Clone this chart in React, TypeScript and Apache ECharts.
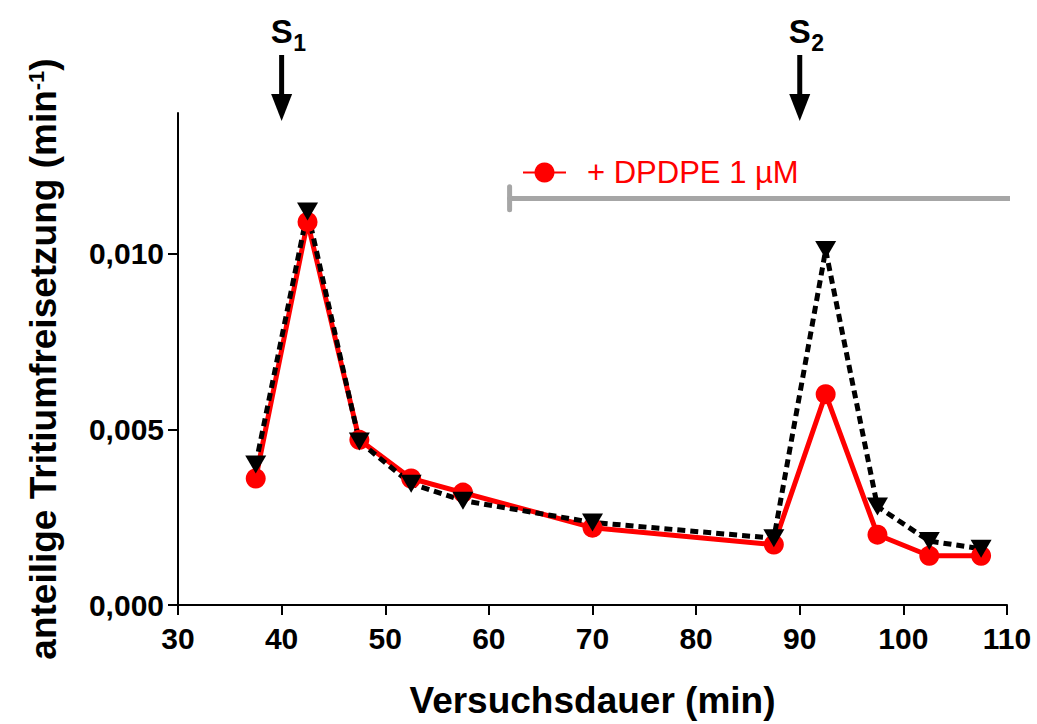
import React, { useEffect, useRef } from "react";
import * as echarts from "echarts";

const timePoints = [37.5, 42.5, 47.5, 52.5, 57.5, 70, 87.5, 92.5, 97.5, 102.5, 107.5];
const dpdpeValues = [0.0036, 0.0109, 0.0047, 0.0036, 0.0032, 0.0022, 0.00172, 0.006, 0.002, 0.0014, 0.0014];
const controlValues = [0.004, 0.0112, 0.00465, 0.00345, 0.00297, 0.00235, 0.0019, 0.0101, 0.0028, 0.00182, 0.0016];
const yTicks = [0, 0.005, 0.01];
const drugBar = [[62, 0.01157], [110.5, 0.01157]];
const drugBarCap = [[62, 0.0119], [62, 0.01125]];
const stimuli = [
  { label: "S", sub: "1", x: 40 },
  { label: "S", sub: "2", x: 90 },
];
const dpdpeName = "+ DPDPE 1 µM";

const FONT = "'Liberation Sans', Arial, sans-serif";

export default function App() {
  const ref = useRef<HTMLDivElement>(null);
  useEffect(() => {
    document.body.style.margin = "0";
    document.body.style.overflow = "hidden";
    if (!ref.current) return;
    const chart = echarts.init(ref.current, null, { renderer: "svg" });
    chart.setOption({
      animation: false,
      backgroundColor: "#ffffff",
      textStyle: { fontFamily: FONT },
      grid: { left: 178, right: 30, top: 113, bottom: 112, containLabel: false },
      legend: {
        data: [dpdpeName],
        left: 522,
        top: 157,
        padding: 0,
        itemWidth: 43,
        itemHeight: 25,
        textStyle: { color: "#ff0000", fontSize: 31, fontFamily: FONT, padding: [0, 0, 0, 16] },
        selectedMode: false,
      },
      xAxis: {
        type: "value",
        min: 30,
        max: 110,
        interval: 10,
        name: "Versuchsdauer (min)",
        nameLocation: "middle",
        nameGap: 77,
        nameTextStyle: { fontSize: 37, fontWeight: "bold", color: "#000", fontFamily: FONT },
        axisLine: { lineStyle: { color: "#000", width: 2 } },
        axisTick: { length: 10, lineStyle: { color: "#000", width: 2 } },
        axisLabel: { fontSize: 30, fontWeight: "bold", color: "#000", margin: 18, fontFamily: FONT },
        splitLine: { show: false },
      },
      yAxis: {
        type: "value",
        min: 0,
        max: 0.014,
        interval: 0.005,
        name: "anteilige Tritiumfreisetzung (min{sup|-1})",
        nameLocation: "middle",
        nameRotate: 90,
        nameGap: 116,
        nameTextStyle: {
          fontSize: 37,
          fontWeight: "bold",
          color: "#000",
          fontFamily: FONT,
          rich: { sup: { fontSize: 22, fontWeight: "bold", color: "#000", verticalAlign: "top", fontFamily: FONT } },
        },
        axisLine: { show: true, lineStyle: { color: "#000", width: 2 } },
        axisTick: { show: true, length: 10, customValues: yTicks, lineStyle: { color: "#000", width: 2 } },
        axisLabel: {
          fontSize: 30,
          fontWeight: "bold",
          color: "#000",
          margin: 14,
          fontFamily: FONT,
          customValues: yTicks,
          formatter: (v: number) => v.toFixed(3).replace(".", ","),
        },
        splitLine: { show: false },
      },
      series: [
        {
          name: "drugBar",
          type: "line",
          data: drugBar,
          symbol: "none",
          clip: false,
          silent: true,
          lineStyle: { color: "#a6a6a6", width: 5, cap: "round" },
        },
        {
          name: "drugBarCap",
          type: "line",
          data: drugBarCap,
          symbol: "none",
          clip: false,
          silent: true,
          lineStyle: { color: "#a6a6a6", width: 5, cap: "round" },
        },
        {
          name: dpdpeName,
          type: "line",
          data: timePoints.map((t, i) => [t, dpdpeValues[i]]),
          symbol: "circle",
          symbolSize: 20,
          itemStyle: { color: "#ff0000" },
          lineStyle: { color: "#ff0000", width: 5 },
        },
        {
          name: "Kontrolle",
          type: "line",
          data: timePoints.map((t, i) => [t, controlValues[i]]),
          symbol: "triangle",
          symbolRotate: 180,
          symbolSize: [21, 18],
          itemStyle: { color: "#000000" },
          lineStyle: { color: "#000000", width: 5, type: [8, 5] },
        },
      ],
    });

    const graphics: any[] = [];
    stimuli.forEach((s) => {
      const px = chart.convertToPixel({ xAxisIndex: 0 }, s.x) as number;
      graphics.push(
        { type: "line", shape: { x1: px, y1: 55, x2: px, y2: 98 }, style: { stroke: "#000", lineWidth: 5 } },
        { type: "polygon", shape: { points: [[px - 10.5, 94], [px + 10.5, 94], [px, 121]] }, style: { fill: "#000" } },
        {
          type: "text",
          x: px,
          y: 31,
          style: { text: s.label, fontSize: 33, fontWeight: "bold", fill: "#000", fontFamily: FONT, align: "center", verticalAlign: "middle" },
        },
        {
          type: "text",
          x: px + 18,
          y: 43,
          style: { text: s.sub, fontSize: 23, fontWeight: "bold", fill: "#000", fontFamily: FONT, align: "center", verticalAlign: "middle" },
        }
      );
    });
    chart.setOption({ graphic: graphics });

    return () => chart.dispose();
  }, []);
  return <div ref={ref} style={{ width: 1037, height: 724 }} />;
}
